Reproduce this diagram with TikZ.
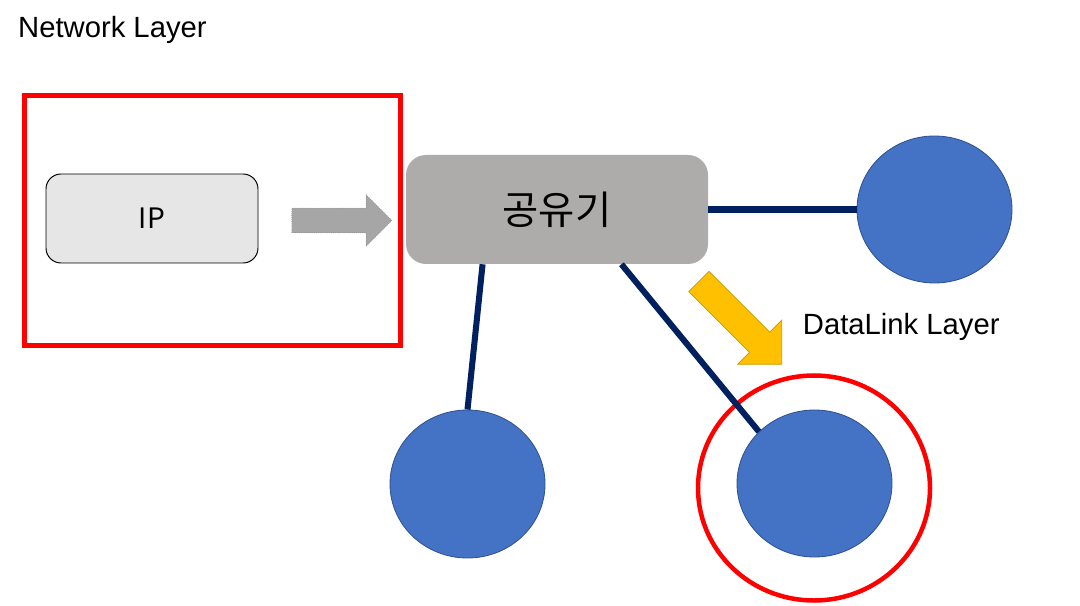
\documentclass[tikz,border=0pt]{standalone}
\usepackage{fontspec}
\setmainfont{Liberation Sans}
\newfontfamily\krfont{Noto Sans CJK KR}
\usepackage{xcolor}
\usepackage{tikz}
\usetikzlibrary{shapes.geometric, shapes.arrows, positioning, calc}
\definecolor{boxIP}{HTML}{E7E6E6}
\definecolor{boxRouter}{HTML}{AEABAB}
\definecolor{hostFill}{HTML}{4472C4}
\definecolor{hostBorder}{HTML}{2F528F}
\definecolor{linkNavy}{HTML}{002060}
\definecolor{markRed}{HTML}{FF0000}
\definecolor{arrowGray}{HTML}{A6A6A6}
\definecolor{arrowGrayBorder}{HTML}{8C8C8C}
\definecolor{arrowGold}{HTML}{FFC000}
\definecolor{arrowGoldBorder}{HTML}{C99A06}

\begin{document}
\begin{tikzpicture}[
    host/.style={ellipse, fill=hostFill, draw=hostBorder, line width=0.6pt,
                 minimum width=3.875cm, minimum height=#1, inner sep=0pt},
    link/.style={line width=4.3pt, color=linkNavy},
    blockarrow/.style={single arrow, inner xsep=0pt, single arrow tip angle=90,
                 single arrow head indent=0pt, line width=0.5pt},
    layerlabel/.style={anchor=base west, font=\fontsize{20.8}{24}\selectfont},
]
\useasboundingbox (0,0) rectangle (27,15.125);

% ── Network Layer ──
\node[layerlabel] (netlabel) at (0.33,14.175) {Network Layer};
\draw[markRed, line width=3.6pt] (0.6125,6.4875) rectangle (10.0125,12.7375);
\node[rectangle, rounded corners=0.375cm, fill=boxIP, draw=black, line width=0.7pt,
      minimum width=5.3cm, minimum height=2.225cm,
      font=\krfont\fontsize{20}{24}\selectfont] (ip) at (3.8,9.6625) {IP};
\node[blockarrow, fill=arrowGray, draw=arrowGrayBorder, densely dotted,
      inner ysep=0.3cm, minimum height=2.5cm,
      single arrow head extend=0.33cm] (toRouter) at (8.39,9.6125) {};

% ── Router ──
\node[rectangle, rounded corners=0.5cm, fill=boxRouter,
      minimum width=7.55cm, minimum height=2.725cm,
      font=\krfont\fontsize{28}{32}\selectfont] (router) at (13.925,9.8875) {공유기};

% ── Hosts ──
\node[host=3.675cm] (hostRight) at (23.3625,9.8875) {};
\node[host=3.7cm] (hostLeft) at (11.6875,3.025) {};
\node[host=3.675cm] (hostDown) at (20.3625,3.0375) {};
\node[ellipse, draw=markRed, line width=3.2pt, minimum width=5.8cm,
      minimum height=5.625cm, inner sep=0pt] (ring) at (20.35,2.925) {};

% ── Links ──
\draw[link] (router.east) -- (hostRight.west);
\draw[link] ($(router.south west)!0.254!(router.south east)$) -- (hostLeft.north);
\draw[link] ($(router.south west)!0.713!(router.south east)$) -- (hostDown.137);

% ── DataLink Layer ──
\node[blockarrow, fill=arrowGold, draw=arrowGoldBorder, rotate=-45,
      inner ysep=0.35cm, minimum height=2.93cm,
      single arrow head extend=0.42cm] (toLink) at (18.38,7.18) {};
\node[layerlabel] (linklabel) at (19.95,6.75) {DataLink Layer};

\end{tikzpicture}
\end{document}
